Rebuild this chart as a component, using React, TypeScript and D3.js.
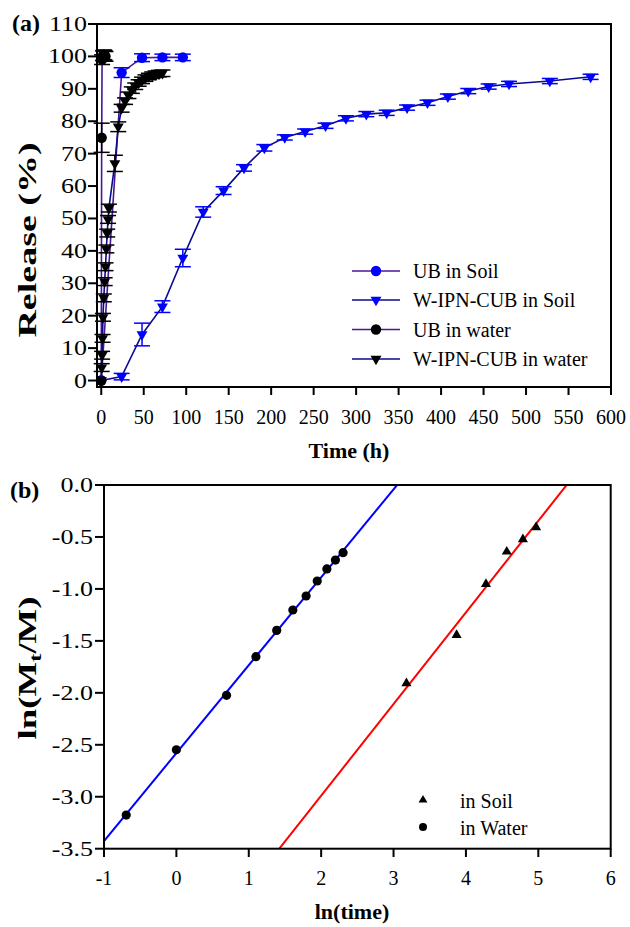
import React from "react";
import * as d3 from "d3";

// ---- panel (a): release vs time ----
const ubSoilTime = [0, 24, 48, 72, 96];
const ubSoilRelease = [0, 95.0, 99.6, 99.7, 99.7];
const ubSoilErr = [0, 1.5, 1.2, 1.0, 1.0];

const wSoilTime = [0, 24, 48, 72, 96, 120, 144, 168, 192, 216, 240, 264, 288, 312, 336, 360, 384, 408, 432, 456, 480, 528, 576];
const wSoilRelease = [0, 1.2, 14.2, 22.8, 37.8, 52.0, 58.6, 65.6, 71.8, 75.0, 76.8, 78.6, 80.9, 82.2, 82.6, 84.2, 85.7, 87.6, 89.3, 90.7, 91.5, 92.4, 93.7];
const wSoilErr = [0, 1.0, 3.5, 1.8, 2.7, 1.6, 1.2, 1.0, 1.0, 0.8, 0.8, 0.8, 0.8, 0.8, 0.8, 0.8, 0.8, 0.8, 0.8, 0.8, 0.8, 0.8, 0.8];

const ubWaterTime = [0, 0.5, 1, 2, 3, 4, 5];
const ubWaterRelease = [0, 74.9, 99.0, 100.2, 100.5, 100.3, 100.0];
const ubWaterErr = [0, 4.5, 1.5, 1.5, 1.5, 1.5, 1.5];

const wWaterTime = [0, 0.5, 1, 1.5, 2, 3, 4, 5, 6, 7, 8, 9, 16, 20, 24, 28, 32, 36, 40, 44, 48, 52, 56, 60, 64, 68, 72];
const wWaterRelease = [0, 4.0, 7.8, 13.0, 19.5, 25.5, 30.5, 35.1, 40.6, 45.5, 49.7, 53.2, 67.0, 78.3, 84.0, 86.2, 88.0, 89.6, 90.8, 91.8, 92.6, 93.3, 93.8, 94.2, 94.5, 94.7, 94.8];
const wWaterErr = [0, 1.2, 1.2, 1.2, 1.2, 1.2, 1.2, 1.2, 1.2, 1.2, 1.2, 1.2, 2.5, 1.5, 1.2, 1, 1, 1, 1, 1, 1, 1, 1, 1, 1, 1, 1];

const timeTicks = [0, 50, 100, 150, 200, 250, 300, 350, 400, 450, 500, 550, 600];
const releaseTicks = [0, 10, 20, 30, 40, 50, 60, 70, 80, 90, 100, 110];

// ---- panel (b): ln(Mt/M) vs ln(time) ----
const soilLnT = [3.178, 3.871, 4.277, 4.564, 4.787, 4.970];
const soilLnM = [-1.909, -1.444, -0.953, -0.642, -0.523, -0.407];
const waterLnT = [-0.693, 0, 0.693, 1.099, 1.386, 1.609, 1.792, 1.946, 2.079, 2.197, 2.303];
const waterLnM = [-3.176, -2.548, -2.024, -1.652, -1.399, -1.203, -1.068, -0.924, -0.808, -0.722, -0.651];
// fitted lines: slope, intercept
const waterFit = [0.846, -2.58];
const soilFit = [0.8816, -4.753];

const lnTimeTicks = [-1, 0, 1, 2, 3, 4, 5, 6];
const lnMTicks = [0.0, -0.5, -1.0, -1.5, -2.0, -2.5, -3.0, -3.5];

const FONT = "'Liberation Serif', 'Times New Roman', serif";
const PURPLE = "#4b1596";
const NAVY = "#0a0a8c";
const BLUE = "#0000ff";

const triDown = d3.symbol(d3.symbolTriangle, 52)();
const triUp = d3.symbol(d3.symbolTriangle, 44)();
const triSmall = d3.symbol(d3.symbolTriangle, 34)();

type Series = {
  name: string; t: number[]; v: number[]; e: number[];
  line: string; fill: string; marker: "circle" | "tri";
};

const seriesA: Series[] = [
  { name: "UB in Soil", t: ubSoilTime, v: ubSoilRelease, e: ubSoilErr, line: PURPLE, fill: BLUE, marker: "circle" },
  { name: "W-IPN-CUB in Soil", t: wSoilTime, v: wSoilRelease, e: wSoilErr, line: NAVY, fill: BLUE, marker: "tri" },
  { name: "UB in water", t: ubWaterTime, v: ubWaterRelease, e: ubWaterErr, line: PURPLE, fill: "#000", marker: "circle" },
  { name: "W-IPN-CUB in water", t: wWaterTime, v: wWaterRelease, e: wWaterErr, line: NAVY, fill: "#000", marker: "tri" },
];

function Marker({ s, x, y }: { s: Series; x: number; y: number }) {
  if (s.marker === "circle") return <circle cx={x} cy={y} r={5.2} fill={s.fill} />;
  return <path d={triDown!} transform={`translate(${x},${y}) rotate(180)`} fill={s.fill} />;
}

function PanelA() {
  const x = d3.scaleLinear().domain([-5, 600]).range([97, 611]);
  const y = d3.scaleLinear().domain([-2, 110]).range([387, 24]);
  const line = d3.line<[number, number]>().x(d => x(d[0])).y(d => y(d[1]));
  const legendY = [271, 300, 329.5, 359];
  return (
    <g>
      {seriesA.map((s, si) => {
        const pts = s.t.map((t, i) => [t, s.v[i]] as [number, number]);
        return (
          <g key={si}>
            <path d={line(pts)!} fill="none" stroke={s.line} strokeWidth={1.6} />
            {pts.map((p, i) => s.e[i] > 0 ? (
              <g key={"e" + i} stroke={s.fill} strokeWidth={1.5}>
                <line x1={x(p[0])} x2={x(p[0])} y1={y(p[1] - s.e[i])} y2={y(p[1] + s.e[i])} />
                <line x1={x(p[0]) - 8} x2={x(p[0]) + 8} y1={y(p[1] - s.e[i])} y2={y(p[1] - s.e[i])} />
                <line x1={x(p[0]) - 8} x2={x(p[0]) + 8} y1={y(p[1] + s.e[i])} y2={y(p[1] + s.e[i])} />
              </g>
            ) : null)}
            {pts.map((p, i) => <Marker key={"m" + i} s={s} x={x(p[0])} y={y(p[1])} />)}
          </g>
        );
      })}
      {/* frame */}
      <rect x={97} y={24} width={514} height={363} fill="none" stroke="#000" strokeWidth={2} />
      {releaseTicks.map(v => (
        <g key={v}>
          <line x1={88} x2={97} y1={y(v)} y2={y(v)} stroke="#000" strokeWidth={2} />
          <text transform={`translate(87,${y(v) + 7}) scale(1.3,1)`} textAnchor="end" fontSize={20} fontFamily={FONT}>{v}</text>
        </g>
      ))}
      {timeTicks.map(t => (
        <g key={t}>
          <line x1={x(t)} x2={x(t)} y1={387} y2={395} stroke="#000" strokeWidth={2} />
          <text x={x(t)} y={424} textAnchor="middle" fontSize={20} fontFamily={FONT}>{t}</text>
        </g>
      ))}
      <text x={349} y={458} textAnchor="middle" fontSize={22} fontWeight="bold" fontFamily={FONT}>Time (h)</text>
      <text transform="translate(36,240) rotate(-90) scale(1.52,1)" textAnchor="middle" fontSize={25} fontWeight="bold" fontFamily={FONT}>Release (%)</text>
      <text x={12} y={31} fontSize={24} fontWeight="bold" fontFamily={FONT}>(a)</text>
      {seriesA.map((s, i) => (
        <g key={"lg" + i}>
          <line x1={352} x2={400} y1={legendY[i]} y2={legendY[i]} stroke={s.line} strokeWidth={1.6} />
          <Marker s={s} x={376} y={legendY[i]} />
          <text x={413} y={legendY[i] + 7} fontSize={20} fontFamily={FONT}>{s.name}</text>
        </g>
      ))}
    </g>
  );
}

function PanelB() {
  const x = d3.scaleLinear().domain([-1, 6]).range([104, 610.7]);
  const y = d3.scaleLinear().domain([-3.5, 0]).range([848.7, 485]);
  const fitLine = (f: number[]) => {
    const xs = x.domain();
    return d3.line<number>().x(d => x(d)).y(d => y(f[0] * d + f[1]))([xs[0], xs[1]])!;
  };
  return (
    <g>
      <defs>
        <clipPath id="clipB"><rect x={104} y={485} width={506.7} height={363.7} /></clipPath>
      </defs>
      <g clipPath="url(#clipB)">
        <path d={fitLine(waterFit)} stroke="#0000ff" strokeWidth={2} fill="none" />
        <path d={fitLine(soilFit)} stroke="#ff0000" strokeWidth={2} fill="none" />
      </g>
      {waterLnT.map((t, i) => <circle key={"w" + i} cx={x(t)} cy={y(waterLnM[i])} r={4.6} fill="#000" />)}
      {soilLnT.map((t, i) => <path key={"s" + i} d={triUp!} transform={`translate(${x(t)},${y(soilLnM[i])})`} fill="#000" />)}
      <rect x={104} y={485} width={506.7} height={363.7} fill="none" stroke="#000" strokeWidth={2} />
      {lnMTicks.map(v => (
        <g key={v}>
          <line x1={95} x2={104} y1={y(v)} y2={y(v)} stroke="#000" strokeWidth={2} />
          <text transform={`translate(93,${y(v) + 7}) scale(1.3,1)`} textAnchor="end" fontSize={20} fontFamily={FONT}>{v.toFixed(1)}</text>
        </g>
      ))}
      {lnTimeTicks.map(t => (
        <g key={t}>
          <line x1={x(t)} x2={x(t)} y1={848.7} y2={857} stroke="#000" strokeWidth={2} />
          <text x={x(t)} y={885} textAnchor="middle" fontSize={20} fontFamily={FONT}>{t}</text>
        </g>
      ))}
      <text x={352} y={919} textAnchor="middle" fontSize={22} fontWeight="bold" fontFamily={FONT}>ln(time)</text>
      <text transform="translate(36,668) rotate(-90) scale(1.47,1)" textAnchor="middle" fontSize={25} fontWeight="bold" fontFamily={FONT}>
        ln(M<tspan fontSize={17} dy={5}>t</tspan><tspan dy={-5}>/M)</tspan>
      </text>
      <text x={10} y={498} fontSize={24} fontWeight="bold" fontFamily={FONT}>(b)</text>
      <path d={triSmall!} transform="translate(423,800)" fill="#000" />
      <text x={460} y={808} fontSize={20} fontFamily={FONT}>in Soil</text>
      <circle cx={423} cy={827} r={4} fill="#000" />
      <text x={460} y={835} fontSize={20} fontFamily={FONT}>in Water</text>
    </g>
  );
}

export default function App() {
  return (
    <div style={{ position: "absolute", left: 0, top: 0 }}>
      <svg width={630} height={927} style={{ display: "block", background: "#fff" }}>
        <PanelA />
        <PanelB />
      </svg>
    </div>
  );
}
